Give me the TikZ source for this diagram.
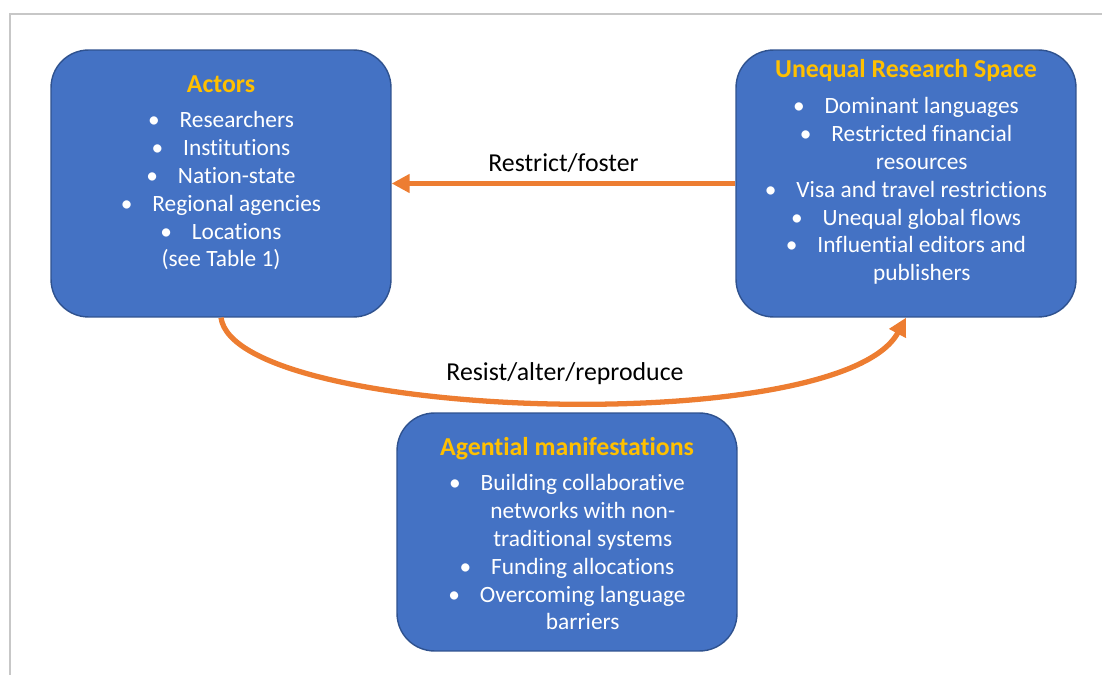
\documentclass[tikz,border=0pt]{standalone}
\usepackage{fontspec}
\setmainfont{Carlito}[Ligatures=NoCommon]
\usetikzlibrary{positioning,arrows.meta}
\definecolor{boxblue}{HTML}{4472C4}
\definecolor{boxedge}{HTML}{2F528F}
\definecolor{titlegold}{HTML}{FFC000}
\definecolor{linkorange}{HTML}{ED7D31}
\newcommand{\itm}{\textbullet\hspace{0.85em}}
\newcommand{\cnt}{\phantom{\itm}}
\newcommand{\boxtitle}[1]{\textcolor{titlegold}{\fontsize{14.7}{15.94}\selectfont\bfseries #1}}

\begin{document}
\begin{tikzpicture}[x=0.02cm,y=-0.02cm,>={Triangle[length=0.36cm,width=0.36cm]}]
\tikzset{
  panel/.style={draw=boxedge,fill=boxblue,rounded corners=0.75cm,minimum width=6.8cm,line width=0.8pt},
  panelText/.style={align=center,text=white,inner sep=0pt,font=\fontsize{13.3}{15.85}\selectfont},
  link/.style={draw=linkorange,line width=3pt},
  linkText/.style={font=\fontsize{14.7}{17}\selectfont}
}
\useasboundingbox (0,0) rectangle (1102,675);
\draw[black!22,line width=1pt] (10,675) -- (10,14) -- (1102,14);
% the three panels
\node[panel,minimum height=5.34cm] (actors) at (221,183.5) {};
\node[panel,minimum height=5.34cm] (space) at (906,183.5) {};
\node[panel,minimum height=4.76cm] (agency) at (567,532) {};
\node[panelText,below=0.52cm of actors.north] (actorsList) {\boxtitle{Actors}\\[0.15cm]
  \itm Researchers\\ \itm Institutions\\ \itm Nation-state\\ \itm Regional agencies\\
  \itm Locations\\ (see Table 1)};
\node[panelText,below=0.2cm of space.north] (spaceList) {\boxtitle{Unequal Research Space}\\[0.16cm]
  \itm Dominant languages\\ \itm Restricted financial\\ \cnt resources\\
  \itm Visa and travel restrictions\\ \itm Unequal global flows\\
  \itm Influential editors and\\ \cnt publishers};
\node[panelText,below=0.5cm of agency.north] (agencyList) {\boxtitle{Agential manifestations}\\[0.14cm]
  \itm Building collaborative\\ \cnt networks with non-\\ \cnt traditional systems\\
  \itm Funding allocations\\ \itm Overcoming language\\ \cnt barriers};
% links between them
\draw[link,->] (space.west) -- node[linkText,above=0.04cm] (fosterLabel) {Restrict/foster} (actors.east);
\draw[link,->] (actors.south) .. controls (235,420) and (840,440) .. (space.south);
\node[linkText] (resistLabel) at (565,374) {Resist/alter/reproduce};
\end{tikzpicture}
\end{document}
